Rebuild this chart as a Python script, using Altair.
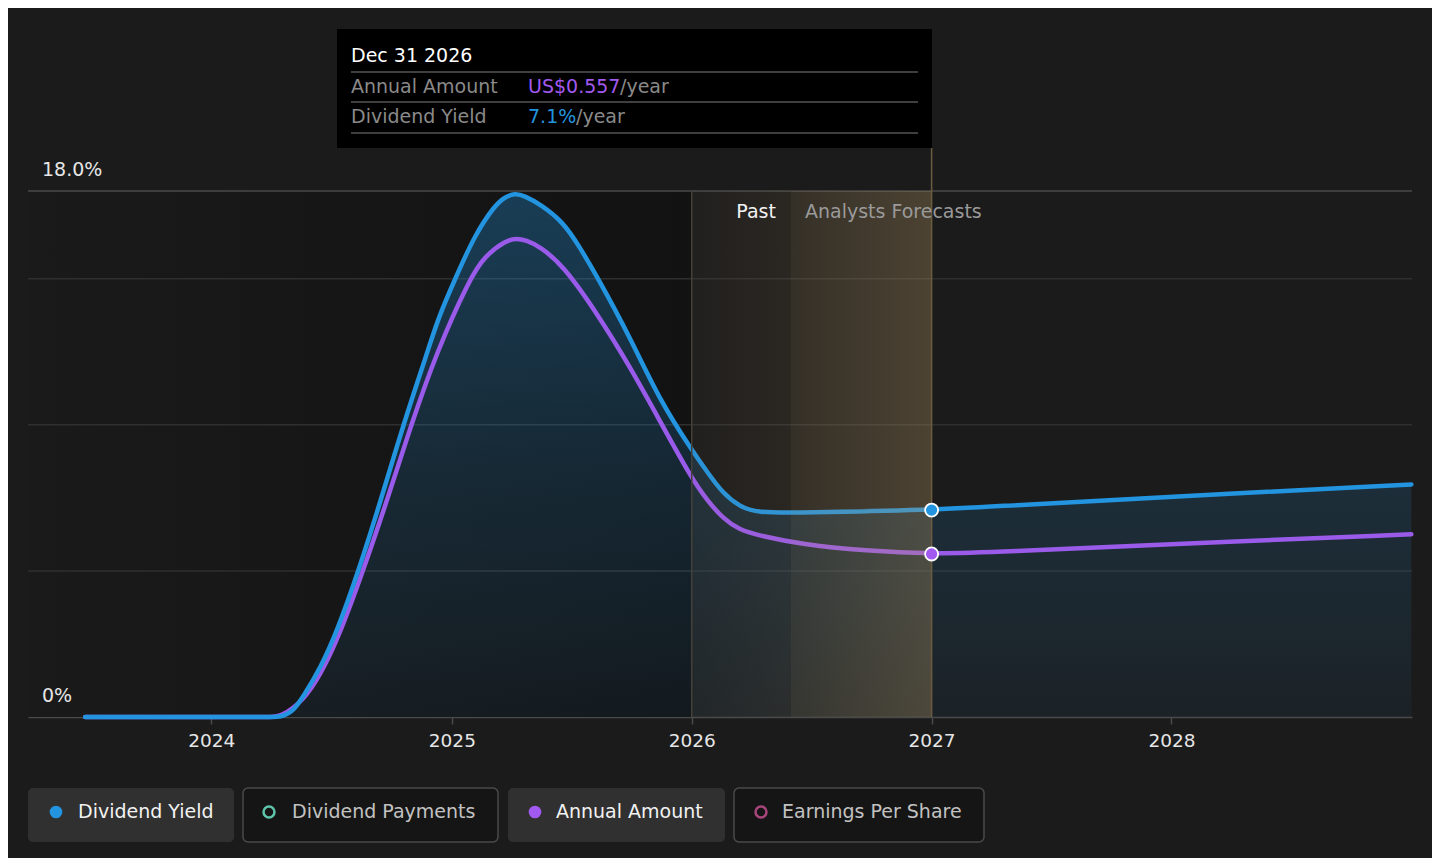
import altair as alt
import pandas as pd

# ---------------- data ----------------
yield_dates = ["2023-06-23", "2023-10-01", "2024-01-01", "2024-03-01", "2024-04-01",
               "2024-04-15", "2024-05-03", "2024-05-20", "2024-06-15",
               "2024-07-11", "2024-08-12", "2024-09-14", "2024-10-19", "2024-11-25",
               "2024-12-11", "2025-01-06", "2025-02-05", "2025-03-07", "2025-03-23",
               "2025-04-07", "2025-04-22", "2025-05-15", "2025-06-19", "2025-07-14",
               "2025-08-10", "2025-09-29", "2025-11-13", "2026-01-01", "2026-01-24",
               "2026-02-17", "2026-03-15", "2026-04-10", "2026-06-14", "2027-01-01",
               "2027-04-14", "2028-01-01", "2028-12-31"]
yield_pct = [0, 0, 0, 0, 0,
             0, 0.15, 0.7, 1.67,
             2.97, 5.0, 7.35, 10.0, 12.5,
             13.64, 15.0, 16.5, 17.5, 17.8,
             17.92, 17.83, 17.55, 16.95, 16.1,
             15.07, 13.0, 10.85, 9.14, 8.4,
             7.66, 7.2, 6.99, 6.99, 7.08,
             7.22, 7.54, 7.96]

amount_dates = ["2023-06-23", "2023-10-01", "2024-01-01", "2024-03-01", "2024-04-01",
                "2024-04-15", "2024-05-20", "2024-06-15", "2024-07-11",
                "2024-08-19", "2024-09-25", "2024-10-31", "2024-12-09", "2025-01-28",
                "2025-02-20", "2025-03-25", "2025-04-09", "2025-04-24", "2025-05-15",
                "2025-06-19", "2025-08-10", "2025-09-29", "2025-11-18", "2026-01-01",
                "2026-01-24", "2026-02-17", "2026-03-15", "2026-04-10", "2026-06-14",
                "2026-09-24", "2027-01-01", "2027-04-14", "2028-01-01", "2028-12-31"]
amount_usd = [0, 0, 0, 0, 0,
              0, 0.055, 0.145, 0.263,
              0.499, 0.744, 0.998, 1.248, 1.497,
              1.575, 1.629, 1.635, 1.629, 1.607,
              1.544, 1.379, 1.197, 0.993, 0.815,
              0.742, 0.679, 0.639, 0.622, 0.591,
              0.567, 0.557, 0.564, 0.591, 0.624]
amount_axis_max = 1.797   # US$ value that sits level with the 18.0% line

grid_vals = [5, 10, 15]
top_val = [18]
ylabel_vals = [0, 18]
ylabel_text = ["0%", "18.0%"]
year_ticks = [2024, 2025, 2026, 2027, 2028]

past_start = "2023-03-28"
today = "2026-01-01"
split = "2026-06-01"
forecast_date = "2027-01-01"
tooltip_title = "Dec 31 2026"

legend_labels = ["Dividend Yield", "Dividend Payments", "Annual Amount", "Earnings Per Share"]
legend_colors = ["#2394DF", "#5FC4AC", "#A259F0", "#A8457A"]
legend_active = [True, False, True, False]

# ---------------- styling ----------------
FONT = "DejaVu Sans"
BLUE = "#2394DF"
PURPLE = "#9A5AEA"
BG = "#1b1b1b"
W, H = 1384, 526
CURVE = "basis"

yield_df = pd.DataFrame({"date": yield_dates, "v": yield_pct})
amount_df = pd.DataFrame({"date": amount_dates, "v": amount_usd})
pt_y = yield_df[yield_df.date == forecast_date]
pt_a = amount_df[amount_df.date == forecast_date]
y_now = float(pt_y.v.iloc[0])
a_now = float(pt_a.v.iloc[0])

one = pd.DataFrame({"k": [0]})

xs = alt.Scale(type="utc", domain=[alt.DateTime(year=2023, month=3, date=28, utc=True),
                                   alt.DateTime(year=2029, month=1, date=1, utc=True)])
ys = alt.Scale(domain=[0, 18])
ys_amt = alt.Scale(domain=[0, amount_axis_max])

x_axis = alt.Axis(values=[alt.DateTime(year=y, month=1, date=1, utc=True) for y in year_ticks],
                  format="%Y", title=None, grid=False, labelColor="#e6e6e6",
                  labelFontSize=18.5, labelFont=FONT, tickColor="#4a4a4a", tickSize=7,
                  tickWidth=1.5, domainColor="#4a4a4a", domainWidth=1.5, labelPadding=7)
X = alt.X("date:T", scale=xs, axis=x_axis, title=None)


def hgrad(stops):
    return alt.Gradient(gradient="linear", x1=0, x2=1, y1=0, y2=0,
                        stops=[alt.GradientStop(color=c, offset=o) for o, c in stops])


def vgrad(stops):
    return alt.Gradient(gradient="linear", x1=0, x2=0, y1=0, y2=1,
                        stops=[alt.GradientStop(color=c, offset=o) for o, c in stops])


layers = []

# past background
past_df = pd.DataFrame({"date": [past_start], "end": [today]})
layers.append(alt.Chart(past_df).mark_rect(color=hgrad([(0, "#1a1a1a"), (1, "#121212")])).encode(
    x=X, x2="end:T"))

# grid lines
layers.append(alt.Chart(pd.DataFrame({"g": grid_vals})).mark_rule(color="#2f2f2f", strokeWidth=1.5).encode(
    y=alt.Y("g:Q", scale=ys, axis=None)))
layers.append(alt.Chart(pd.DataFrame({"g": top_val})).mark_rule(color="#4a4a4a", strokeWidth=1.5).encode(
    y=alt.Y("g:Q", scale=ys, axis=None)))

# area under yield line
layers.append(alt.Chart(yield_df).mark_area(
    interpolate=CURVE,
    color=vgrad([(0, "rgba(35,148,223,0.32)"), (0.5, "rgba(35,148,223,0.17)"), (1, "rgba(35,148,223,0.06)")])
).encode(x=X, y=alt.Y("v:Q", scale=ys, axis=None)))

# lines
layers.append(alt.Chart(amount_df).mark_line(interpolate=CURVE, color=PURPLE, strokeWidth=4.5,
                                             strokeCap="round").encode(
    x=X, y=alt.Y("v:Q", scale=ys_amt, axis=None)))
layers.append(alt.Chart(yield_df).mark_line(interpolate=CURVE, color=BLUE, strokeWidth=4.5,
                                            strokeCap="round").encode(
    x=X, y=alt.Y("v:Q", scale=ys, axis=None)))

# past / forecast bands (overlay)
b1 = pd.DataFrame({"date": [today], "end": [split]})
b2 = pd.DataFrame({"date": [split], "end": [forecast_date]})
layers.append(alt.Chart(b1).mark_rect(color=hgrad([(0, "rgba(150,120,80,0.05)"), (1, "rgba(170,140,95,0.11)")])).encode(
    x=X, x2="end:T"))
layers.append(alt.Chart(b2).mark_rect(color=hgrad([(0, "rgba(180,150,100,0.17)"), (1, "rgba(180,150,100,0.32)")])).encode(
    x=X, x2="end:T"))

# vertical rules
layers.append(alt.Chart(pd.DataFrame({"date": [today]})).mark_rule(color="#45413a", strokeWidth=1.5).encode(
    x=X, y=alt.value(0), y2=alt.value(H)))
layers.append(alt.Chart(pd.DataFrame({"date": [forecast_date]})).mark_rule(color="#6b5b40", strokeWidth=1.5).encode(
    x=X, y=alt.value(-43), y2=alt.value(H)))

# points at the hovered date
layers.append(alt.Chart(pt_a).mark_circle(size=170, fill="#A259F0", stroke="white", strokeWidth=1.8, opacity=1).encode(
    x=X, y=alt.Y("v:Q", scale=ys_amt, axis=None)))
layers.append(alt.Chart(pt_y).mark_circle(size=170, fill=BLUE, stroke="white", strokeWidth=1.8, opacity=1).encode(
    x=X, y=alt.Y("v:Q", scale=ys, axis=None)))

# Past / Analysts Forecasts labels
sp = pd.DataFrame({"date": [split]})
layers.append(alt.Chart(sp).mark_text(text="Past", align="right", baseline="middle", dx=-15,
                                      color="#f2f2f2", fontSize=19, font=FONT).encode(x=X, y=alt.value(21)))
layers.append(alt.Chart(sp).mark_text(text="Analysts Forecasts", align="left", baseline="middle", dx=14,
                                      color="#9a9a9a", fontSize=19, font=FONT).encode(x=X, y=alt.value(21)))

# y labels
layers.append(alt.Chart(pd.DataFrame({"v": ylabel_vals, "t": ylabel_text})).mark_text(
    align="left", baseline="middle", dy=-21, color="#e6e6e6", fontSize=19, font=FONT).encode(
    x=alt.value(14), y=alt.Y("v:Q", scale=ys, axis=None), text="t:N"))

# tooltip box
layers.append(alt.Chart(one).mark_rect(color="#000000").encode(
    x=alt.value(309), x2=alt.value(904), y=alt.value(-162), y2=alt.value(-43)))
for yy in [-119, -89, -58]:
    layers.append(alt.Chart(one).mark_rule(color="#555555", strokeWidth=1.5).encode(
        x=alt.value(323), x2=alt.value(890), y=alt.value(yy)))


def txt(text, x, y, color, size=19):
    return alt.Chart(one).mark_text(text=text, align="left", baseline="middle", color=color,
                                    fontSize=size, font=FONT).encode(x=alt.value(x), y=alt.value(y))


amt_txt = f"US${a_now:.3f}"
yld_txt = f"{y_now:.1f}%"
layers += [
    txt(tooltip_title, 323, -135, "#ffffff"),
    txt("Annual Amount", 323, -104, "#8a8a8a"),
    txt(amt_txt, 500, -104, "#A259F0"),
    txt("/year", 500 + 92, -104, "#8a8a8a"),
    txt("Dividend Yield", 323, -74, "#8a8a8a"),
    txt(yld_txt, 500, -74, BLUE),
    txt("/year", 500 + 48, -74, "#8a8a8a"),
]

# legend
box_x = [(0, 206), (215, 470), (480, 697), (706, 956)]
dot_x = [28, 241, 507, 733]
lab_x = [50, 264, 528, 754]
for i, lab in enumerate(legend_labels):
    x0, x1 = box_x[i]
    if legend_active[i]:
        layers.append(alt.Chart(one).mark_rect(color="#303030", cornerRadius=5).encode(
            x=alt.value(x0), x2=alt.value(x1), y=alt.value(597), y2=alt.value(651)))
        layers.append(alt.Chart(one).mark_circle(size=160, color=legend_colors[i], opacity=1).encode(
            x=alt.value(dot_x[i]), y=alt.value(621)))
        layers.append(txt(lab, lab_x[i], 621, "#f2f2f2"))
    else:
        layers.append(alt.Chart(one).mark_rect(fill="#151515", stroke="#4a4a4a", strokeWidth=1.5,
                                               cornerRadius=5).encode(
            x=alt.value(x0), x2=alt.value(x1), y=alt.value(597), y2=alt.value(651)))
        layers.append(alt.Chart(one).mark_point(shape="circle", filled=False, size=120, strokeWidth=2.5,
                                                color=legend_colors[i], opacity=1).encode(
            x=alt.value(dot_x[i]), y=alt.value(621)))
        layers.append(txt(lab, lab_x[i], 621, "#c2c2c2"))

chart = alt.layer(*layers).resolve_scale(y="independent").properties(
    width=W, height=H,
    background=BG,
    padding={"left": 20, "top": 183, "right": 20, "bottom": 141},
    autosize=alt.AutoSizeParams(type="none"),
).configure_view(stroke=None)

chart.save("out.html", embed_options={"renderer": "svg", "actions": False})
